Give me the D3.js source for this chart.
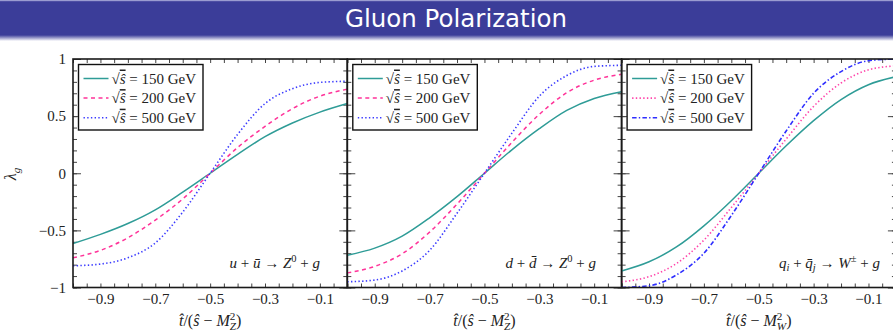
<!DOCTYPE html>
<html>
<head>
<meta charset="utf-8">
<script src="https://cdn.jsdelivr.net/npm/d3@7"></script>
<style>
  body { margin: 0; background: #fff; }
  svg { display: block; }
  text { font-family: "Liberation Serif", "DejaVu Serif", serif; fill: #222; }
</style>
</head>
<body>
<div id="container"></div>
<script>
// x = t/(s - M^2), sampled every 0.1
var xValues = [-1, -0.9, -0.8, -0.7, -0.6, -0.5, -0.4, -0.3, -0.2, -0.1, 0];

// u + ubar -> Z0 + g
var uuZ150 = [-0.615, -0.535, -0.44, -0.32, -0.165, 0, 0.165, 0.32, 0.44, 0.535, 0.61];
var uuZ200 = [-0.74, -0.675, -0.565, -0.41, -0.225, 0, 0.225, 0.41, 0.565, 0.675, 0.735];
var uuZ500 = [-0.81, -0.795, -0.74, -0.61, -0.34, 0, 0.34, 0.61, 0.74, 0.795, 0.805];

// d + dbar -> Z0 + g
var ddZ150 = [-0.717, -0.655, -0.55, -0.39, -0.205, 0, 0.205, 0.39, 0.55, 0.655, 0.714];
var ddZ200 = [-0.872, -0.815, -0.705, -0.515, -0.27, 0, 0.27, 0.515, 0.705, 0.815, 0.866];
var ddZ500 = [-0.95, -0.935, -0.855, -0.675, -0.35, 0, 0.35, 0.675, 0.855, 0.935, 0.945];

// q_i + qbar_j -> W + g
var qqW150 = [-0.855, -0.775, -0.645, -0.46, -0.24, 0, 0.24, 0.46, 0.645, 0.775, 0.845];
var qqW200 = [-0.95, -0.905, -0.79, -0.585, -0.3, 0, 0.3, 0.585, 0.79, 0.905, 0.94];
var qqW500 = [-1.0, -0.985, -0.89, -0.70, -0.37, 0, 0.37, 0.70, 0.89, 0.985, 1.0];

var energies = ["150", "200", "500"];
var xTicks = [-0.9, -0.7, -0.5, -0.3, -0.1];
var yTicks = [-1, -0.5, 0, 0.5, 1];
var title = "Gluon Polarization";

// process labels, as pieces of "math" text
var procLabels = [
  [{t:"u",it:1},{t:" + "},{t:"\u016B",it:1},{t:" \u2192 "},{t:"Z",it:1},{t:"0",sup:1},{t:" + "},{t:"g",it:1}],
  [{t:"d",it:1},{t:" + "},{t:"d\u0304",it:1},{t:" \u2192 "},{t:"Z",it:1},{t:"0",sup:1},{t:" + "},{t:"g",it:1}],
  [{t:"q",it:1},{t:"i",sub:1,it:1},{t:" + "},{t:"q\u0304",it:1},{t:"j",sub:1,it:1},{t:" \u2192 "},{t:"W",it:1},{t:"\u00B1",sup:1},{t:" + "},{t:"g",it:1}]
];
var bosons = ["Z", "Z", "W"];

var styles = {
  solid:   {color: "#2f9c97", dash: null, width: 1.5},
  dash:    {color: "#ff3399", dash: "4,3.5", width: 1.5},
  dot:     {color: "#3b3bff", dash: "1.4,2.3", width: 1.6},
  pinkdot: {color: "#ff44aa", dash: "1.4,2.3", width: 1.6},
  dashdot: {color: "#2e2eff", dash: "4.5,2.2,1.4,2.2", width: 1.6}
};

var panels = [
  {series: [uuZ150, uuZ200, uuZ500], kinds: ["solid", "dash", "dot"], labelEnd: 320},
  {series: [ddZ150, ddZ200, ddZ500], kinds: ["solid", "dash", "dot"], labelEnd: 596},
  {series: [qqW150, qqW200, qqW500], kinds: ["solid", "pinkdot", "dashdot"], labelEnd: 880}
];

var W = 893, H = 333;
var plotTop = 59, plotBottom = 287.5, plotLeft = 73, panelW = 274.3;

var svg = d3.select("#container").append("svg")
    .attr("width", W)
    .attr("height", H);

// writes math-ish pieces into a text element as tspans
function rich(textSel, parts, size) {
  var shift = 0;
  parts.forEach(function(p) {
    var ts = textSel.append("tspan").text(p.t);
    var target = p.sup ? -size * 0.38 : (p.sub ? size * 0.22 : 0);
    if (target !== shift) { ts.attr("dy", target - shift); shift = target; }
    if (p.it) ts.style("font-style", "italic");
    if (p.sup || p.sub) ts.style("font-size", (size * 0.7) + "px");
    if (p.dx) ts.attr("dx", p.dx);
    if (p.over) ts.style("text-decoration", "overline");
  });
}

// ---- banner ----
var defs = svg.append("defs");
var grad = defs.append("linearGradient").attr("id", "fade")
    .attr("x1", 0).attr("y1", 0).attr("x2", 0).attr("y2", 1);
grad.append("stop").attr("offset", "0%").attr("stop-color", "#3b3d99");
grad.append("stop").attr("offset", "100%").attr("stop-color", "#ffffff");

svg.append("rect").attr("x", 0).attr("y", 0).attr("width", W).attr("height", 35)
    .attr("fill", "#3b3d99");
svg.append("rect").attr("x", 0).attr("y", 0).attr("width", W).attr("height", 1.2)
    .attr("fill", "#9a9cd0");
svg.append("rect").attr("x", 0).attr("y", 35).attr("width", W).attr("height", 6)
    .attr("fill", "url(#fade)");
svg.append("text")
    .attr("x", 456).attr("y", 26.5)
    .attr("text-anchor", "middle")
    .style("font-family", "'Comic Sans MS', 'DejaVu Sans', sans-serif")
    .style("font-size", "24.5px")
    .style("fill", "#ffffff")
    .text(title);

// ---- y label ----
var yl = svg.append("text")
    .attr("transform", "translate(16,174) rotate(-90)")
    .attr("text-anchor", "middle")
    .style("font-size", "16px");
rich(yl, [{t:"\u03BB", it:1}, {t:"g", sub:1, it:1}], 16);

var fmt = d3.format("~g");

panels.forEach(function(panel, i) {
  var left = plotLeft + i * panelW;
  var g = svg.append("g").attr("transform", "translate(" + left + ",0)");

  var x = d3.scaleLinear().domain([-1, 0]).range([0, panelW]);
  var y = d3.scaleLinear().domain([-1, 1]).range([plotBottom, plotTop]);

  defs.append("clipPath").attr("id", "clip" + i)
    .append("rect").attr("x", 0).attr("y", plotTop)
    .attr("width", panelW).attr("height", plotBottom - plotTop);

  // minor / major ticks, all pointing inward
  var xMinor = d3.range(0, 21).map(function(k) { return -1 + k * 0.05; });
  var yMinor = d3.range(0, 21).map(function(k) { return -1 + k * 0.1; });

  function tickAxis(axis, tx, ty) {
    var a = g.append("g").attr("transform", "translate(" + tx + "," + ty + ")").call(axis);
    a.select(".domain").remove();
    a.selectAll("text").remove();
    a.selectAll("line").attr("stroke", "#444").attr("stroke-width", 1);
    return a;
  }
  tickAxis(d3.axisBottom(x).tickValues(xMinor).tickSize(-4), 0, plotBottom);
  tickAxis(d3.axisTop(x).tickValues(xMinor).tickSize(-4), 0, plotTop);
  tickAxis(d3.axisLeft(y).tickValues(yMinor).tickSize(-4), 0, 0);
  tickAxis(d3.axisRight(y).tickValues(yMinor).tickSize(-4), panelW, 0);
  tickAxis(d3.axisLeft(y).tickValues(yTicks).tickSize(-8), 0, 0);
  tickAxis(d3.axisRight(y).tickValues(yTicks).tickSize(-8), panelW, 0);

  // x tick labels
  var xa = g.append("g").attr("transform", "translate(0," + plotBottom + ")")
    .call(d3.axisBottom(x).tickValues(xTicks).tickSize(0).tickPadding(6)
      .tickFormat(function(d) { return d3.format(".1f")(d); }));
  xa.select(".domain").remove();
  xa.selectAll("text").style("font-size", "15px").style("fill", "#222")
    .style("font-family", "'Liberation Serif', serif");

  // y tick labels only on the first panel
  if (i === 0) {
    var ya = g.append("g")
      .call(d3.axisLeft(y).tickValues(yTicks).tickSize(0).tickPadding(7).tickFormat(fmt));
    ya.select(".domain").remove();
    ya.selectAll("text").style("font-size", "15px").style("fill", "#222")
      .style("font-family", "'Liberation Serif', serif");
  }

  // curves
  var line = d3.line()
    .x(function(d, j) { return x(xValues[j]); })
    .y(function(d) { return y(d); })
    .curve(d3.curveMonotoneX);

  var curves = g.append("g").attr("clip-path", "url(#clip" + i + ")");
  panel.series.forEach(function(vals, k) {
    var st = styles[panel.kinds[k]];
    curves.append("path")
      .datum(vals)
      .attr("d", line)
      .attr("fill", "none")
      .attr("stroke", st.color)
      .attr("stroke-width", st.width)
      .attr("stroke-dasharray", st.dash);
  });

  // legend
  var lg = g.append("g").attr("transform", "translate(5.5,64.5)");
  lg.append("rect").attr("width", 124.5).attr("height", 65.5)
    .attr("fill", "#fff").attr("stroke", "#111").attr("stroke-width", 1.4);
  energies.forEach(function(e, k) {
    var st = styles[panel.kinds[k]];
    var cy = 14 + k * 19.6;
    lg.append("line").attr("x1", 5).attr("x2", 30).attr("y1", cy).attr("y2", cy)
      .attr("stroke", st.color).attr("stroke-width", st.width)
      .attr("stroke-dasharray", st.dash);
    var t = lg.append("text").attr("x", 33).attr("y", cy + 5).style("font-size", "15px");
    rich(t, [{t:"\u221A"}, {t:"\u015D", it:1, over:1}, {t:" = " + e + " GeV"}], 15);
  });

  // process label
  var pl = svg.append("text")
    .attr("x", panel.labelEnd).attr("y", 268)
    .attr("text-anchor", "end")
    .style("font-size", "15px");
  rich(pl, procLabels[i], 15);

  // x axis title
  var xt = svg.append("text")
    .attr("x", left + panelW / 2).attr("y", 326)
    .attr("text-anchor", "middle")
    .style("font-size", "16px");
  rich(xt, [{t:"t\u0302", it:1}, {t:"/("}, {t:"\u015D", it:1}, {t:" \u2212 "}, {t:"M", it:1},
            {t:"2", sup:1}, {t:bosons[i], sub:1, it:1, dx:-5.6}, {t:")"}], 16);

  // frame
  g.append("rect").attr("x", 0).attr("y", plotTop)
    .attr("width", panelW).attr("height", plotBottom - plotTop)
    .attr("fill", "none").attr("stroke", "#1a1a1a").attr("stroke-width", 1.6);
});
</script>
</body>
</html>
